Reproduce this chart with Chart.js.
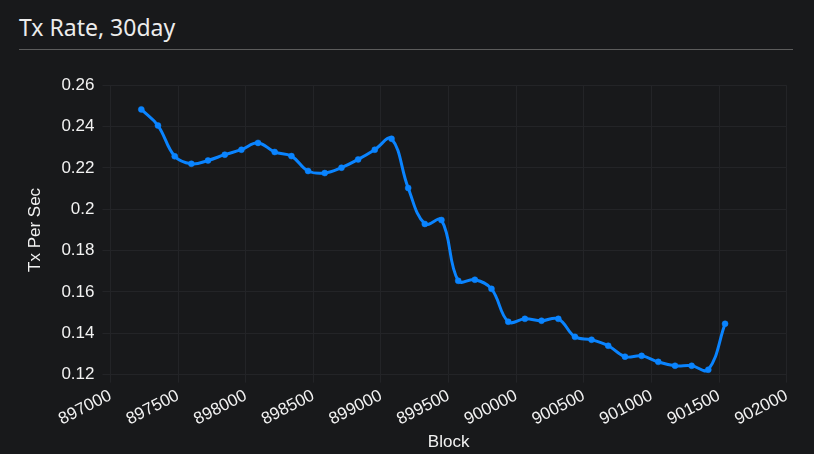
<!DOCTYPE html>
<html>
<head>
<meta charset="utf-8">
<script src="https://cdn.jsdelivr.net/npm/chart.js@4/dist/chart.umd.min.js"></script>
<style>
  html, body { margin: 0; padding: 0; background: #18191b; width: 814px; height: 454px; overflow: hidden; }
  .title { position: absolute; left: 19px; top: 11px; font-family: "Noto Sans", "Open Sans", sans-serif; font-size: 23px; color: #ececec; }
  .sep { position: absolute; left: 19px; top: 49px; width: 774px; height: 1px; background: #5c5c5c; }
  .box { position: absolute; left: 17px; top: 67px; width: 782px; height: 390px; }
</style>
</head>
<body>
<div class="title">Tx Rate, 30day</div>
<div class="sep"></div>
<div class="box"><canvas id="txChart"></canvas></div>
<script>
// block heights and 30 day tx rate
const blocks = [897228, 897351, 897475, 897598, 897721, 897845, 897968, 898091, 898214, 898338,
  898461, 898584, 898708, 898831, 898954, 899078, 899201, 899324, 899447, 899571,
  899694, 899817, 899941, 900064, 900187, 900311, 900434, 900557, 900680, 900804,
  900927, 901050, 901174, 901297, 901420, 901544];
const txRate = [0.2483, 0.2405, 0.2256, 0.2220, 0.2236, 0.2264, 0.2288, 0.2321, 0.2277, 0.2257,
  0.2185, 0.2175, 0.2201, 0.2241, 0.2288, 0.2341, 0.2103, 0.1929, 0.1948, 0.1654,
  0.1659, 0.1615, 0.1456, 0.1470, 0.1461, 0.1470, 0.1383, 0.1369, 0.1340, 0.1287,
  0.1291, 0.1262, 0.1243, 0.1243, 0.1224, 0.1446];
const xTicks = [897000, 897500, 898000, 898500, 899000, 899500, 900000, 900500, 901000, 901500, 902000];
const yTicks = [0.12, 0.14, 0.16, 0.18, 0.2, 0.22, 0.24, 0.26];

const points = blocks.map((b, i) => ({ x: b, y: txRate[i] }));
const tickFont = { family: "'Liberation Sans', Arial, sans-serif", size: 17 };

new Chart(document.getElementById("txChart").getContext("2d"), {
  type: "line",
  data: {
    datasets: [{
      label: "Tx Rate",
      data: points,
      borderColor: "#0a84ff",
      backgroundColor: "#0a84ff",
      borderWidth: 3,
      pointRadius: 3,
      pointBorderWidth: 0.5,
      pointHoverRadius: 3,
      tension: 0.4,
      fill: false
    }]
  },
  options: {
    responsive: true,
    maintainAspectRatio: false,
    animation: false,
    plugins: { legend: { display: false }, tooltip: { enabled: false } },
    scales: {
      x: {
        type: "linear",
        min: xTicks[0],
        max: xTicks[xTicks.length - 1],
        afterBuildTicks: (axis) => { axis.ticks = xTicks.map(v => ({ value: v })); },
        ticks: {
          color: "#f2f2f2",
          font: tickFont,
          minRotation: 27,
          maxRotation: 27,
          callback: (v) => String(v)
        },
        grid: { color: "#232427" },
        border: { color: "#232427" },
        title: { display: true, text: "Block", color: "#f2f2f2", font: tickFont, padding: { top: 0, bottom: 4 } }
      },
      y: {
        min: yTicks[0],
        max: yTicks[yTicks.length - 1],
        afterBuildTicks: (axis) => { axis.ticks = yTicks.map(v => ({ value: v })); },
        ticks: {
          color: "#f2f2f2",
          font: tickFont,
          padding: 8,
          callback: (v) => String(Number(v.toFixed(2)))
        },
        grid: { color: "#232427" },
        border: { color: "#232427" },
        title: { display: true, text: "Tx Per Sec", color: "#f2f2f2", font: tickFont, padding: { top: 8, bottom: 8 } }
      }
    }
  }
});
</script>
</body>
</html>
